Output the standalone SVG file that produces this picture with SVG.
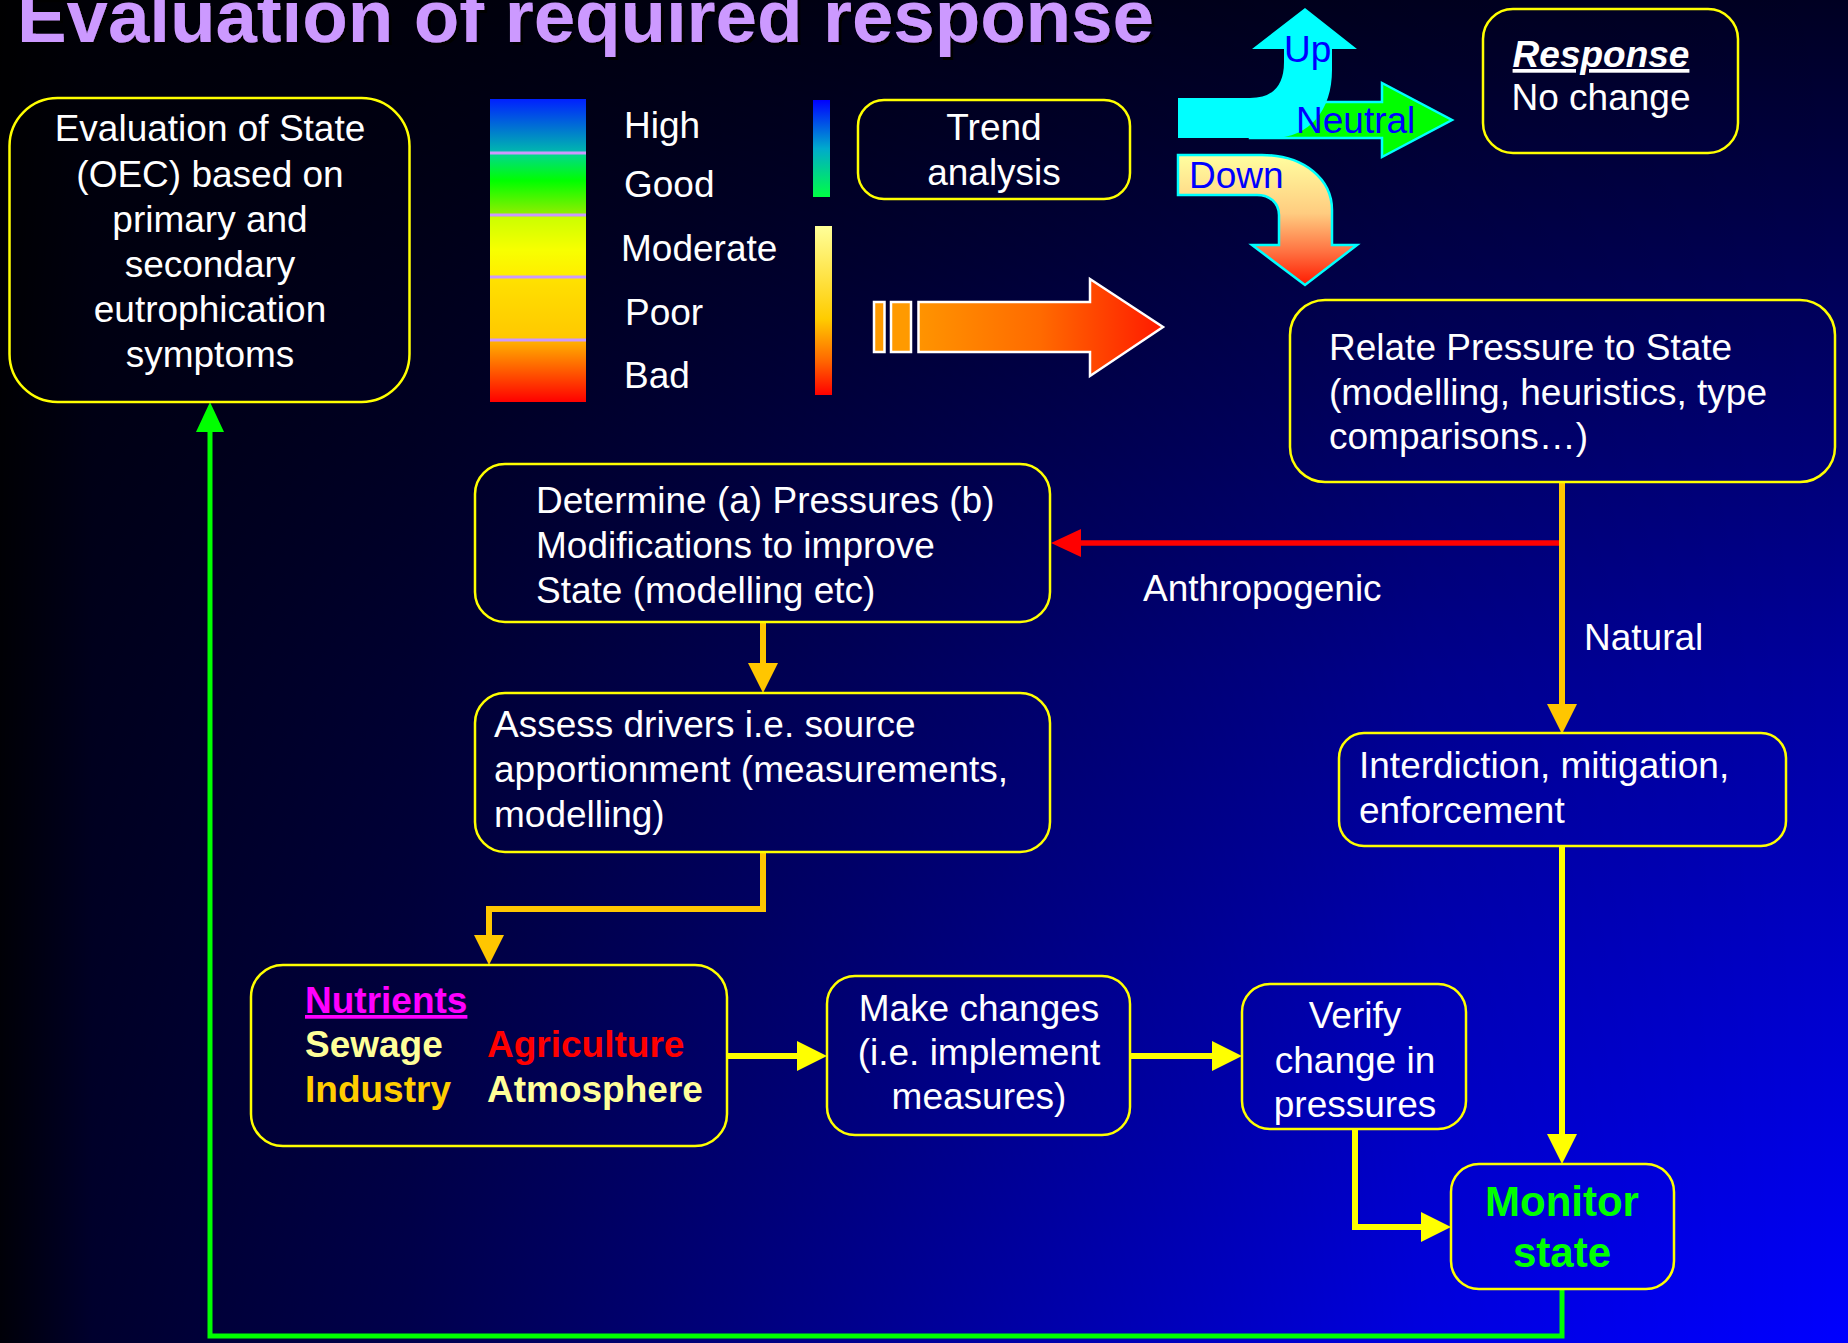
<svg xmlns="http://www.w3.org/2000/svg" width="1848" height="1343" viewBox="0 0 1848 1343">
<style>
.t{font-family:"Liberation Sans",Arial,sans-serif;font-size:37px;fill:#ffffff}
.b{font-weight:bold}
.box{fill:none;stroke:#ffff00;stroke-width:2.5}
.bl{fill:#0000ff}
.cy{fill:#00ffff}
.c{fill:none;stroke-linejoin:miter}
.cy6{stroke:#ffff00;stroke-width:6}
.co6{stroke:#ffc600;stroke-width:6}
.sep{stroke:#cc99ff;stroke-width:3}
</style>
<defs>
<linearGradient id="bgV" x1="0" y1="0" x2="0" y2="1">
<stop offset="0" stop-color="#000022"/><stop offset="0.5" stop-color="#00009e"/><stop offset="1" stop-color="#0000ff"/>
</linearGradient>
<linearGradient id="bgH" x1="0" y1="0" x2="1" y2="0">
<stop offset="0" stop-color="#000" stop-opacity="0.97"/><stop offset="0.05" stop-color="#000" stop-opacity="0.82"/><stop offset="0.22" stop-color="#000" stop-opacity="0.7"/><stop offset="0.5" stop-color="#000" stop-opacity="0.4"/><stop offset="0.77" stop-color="#000" stop-opacity="0.12"/><stop offset="1" stop-color="#000" stop-opacity="0"/>
</linearGradient>
<linearGradient id="scale" x1="0" y1="0" x2="0" y2="1">
<stop offset="0" stop-color="#0020ff"/><stop offset="0.17" stop-color="#00b4b0"/><stop offset="0.18" stop-color="#00d890"/><stop offset="0.27" stop-color="#00ff00"/><stop offset="0.38" stop-color="#90ee00"/><stop offset="0.39" stop-color="#ccff00"/><stop offset="0.5" stop-color="#f8ff00"/><stop offset="0.58" stop-color="#ffee00"/><stop offset="0.6" stop-color="#ffe000"/><stop offset="0.79" stop-color="#ffc800"/><stop offset="0.8" stop-color="#ffb000"/><stop offset="1" stop-color="#ff0000"/>
</linearGradient>
<linearGradient id="bgbar" x1="0" y1="0" x2="0" y2="1">
<stop offset="0" stop-color="#0000ff"/><stop offset="0.5" stop-color="#00aacc"/><stop offset="1" stop-color="#00ff44"/>
</linearGradient>
<linearGradient id="orbar" x1="0" y1="0" x2="0" y2="1">
<stop offset="0" stop-color="#ffff99"/><stop offset="0.55" stop-color="#ffcc00"/><stop offset="0.8" stop-color="#ff6600"/><stop offset="1" stop-color="#ff0000"/>
</linearGradient>
<linearGradient id="bigarr" gradientUnits="userSpaceOnUse" x1="918" y1="0" x2="1163" y2="0">
<stop offset="0" stop-color="#ff9400"/><stop offset="0.5" stop-color="#ff6a00"/><stop offset="1" stop-color="#ff1a00"/>
</linearGradient>
<linearGradient id="down" x1="0" y1="0" x2="0" y2="1">
<stop offset="0" stop-color="#ffffa0"/><stop offset="0.45" stop-color="#ffcc80"/><stop offset="0.75" stop-color="#ff7040"/><stop offset="1" stop-color="#ff1a00"/>
</linearGradient>
<filter id="sh" x="-5%" y="-20%" width="110%" height="150%"><feDropShadow dx="3" dy="3" stdDeviation="0" flood-color="#000" flood-opacity="1"/></filter>
<marker id="mY" markerUnits="userSpaceOnUse" markerWidth="30" markerHeight="30" refX="0" refY="15" orient="auto" overflow="visible"><path d="M0,0 L30,15 L0,30 Z" fill="#ffff00"/></marker>
<marker id="mO" markerUnits="userSpaceOnUse" markerWidth="30" markerHeight="30" refX="0" refY="15" orient="auto" overflow="visible"><path d="M0,0 L30,15 L0,30 Z" fill="#ffc600"/></marker>
<marker id="mR" markerUnits="userSpaceOnUse" markerWidth="30" markerHeight="30" refX="0" refY="15" orient="auto" overflow="visible"><path d="M0,1 L30,15 L0,29 Z" fill="#ff0000"/></marker>
<marker id="mG" markerUnits="userSpaceOnUse" markerWidth="30" markerHeight="30" refX="0" refY="15" orient="auto" overflow="visible"><path d="M0,1 L30,15 L0,29 Z" fill="#00ff00"/></marker>
</defs>

<rect x="0" y="0" width="1848" height="1343" fill="url(#bgV)"/>
<rect x="0" y="0" width="1848" height="1343" fill="url(#bgH)"/>

<g id="title">
<text class="t b" x="17" y="42" style="font-size:74.4px;fill:#cc99ff" filter="url(#sh)">Evaluation of required response</text>
</g>

<g id="connectors">
<path class="c" d="M1562,543 H1081" stroke="#ff0000" stroke-width="5.5" marker-end="url(#mR)"/>
<path class="c co6" d="M1562,482 V704" marker-end="url(#mO)"/>
<path class="c co6" d="M763,622 V663" marker-end="url(#mO)"/>
<path class="c co6" d="M763,852 V909 H489 V935" marker-end="url(#mO)"/>
<path class="c cy6" d="M727,1056 H797" marker-end="url(#mY)"/>
<path class="c cy6" d="M1130,1056 H1212" marker-end="url(#mY)"/>
<path class="c cy6" d="M1355,1129 V1227 H1421" marker-end="url(#mY)"/>
<path class="c cy6" d="M1562,846 V1134" marker-end="url(#mY)"/>
<path class="c" d="M1562,1289 V1336 H210 V432" stroke="#00ff00" stroke-width="5" marker-end="url(#mG)"/>
<text class="t" x="1143" y="601">Anthropogenic</text>
<text class="t" x="1584" y="650">Natural</text>
</g>

<g id="eval-state">
<rect class="box" x="9.5" y="98" width="400" height="304" rx="48"/>
<text class="t" text-anchor="middle"><tspan x="210" y="141">Evaluation of State</tspan><tspan x="210" y="186.5">(OEC) based on</tspan><tspan x="210" y="232">primary and</tspan><tspan x="210" y="277">secondary</tspan><tspan x="210" y="322">eutrophication</tspan><tspan x="210" y="367">symptoms</tspan></text>
</g>

<g id="scale-legend">
<rect x="490" y="99" width="96" height="303" fill="url(#scale)"/>
<line class="sep" x1="490" y1="153" x2="586" y2="153"/>
<line class="sep" x1="490" y1="215" x2="586" y2="215"/>
<line class="sep" x1="490" y1="277" x2="586" y2="277"/>
<line class="sep" x1="490" y1="340" x2="586" y2="340"/>
<text class="t" x="624" y="138">High</text>
<text class="t" x="624" y="197">Good</text>
<text class="t" x="621" y="261">Moderate</text>
<text class="t" x="625" y="325">Poor</text>
<text class="t" x="624" y="388">Bad</text>
<rect x="813" y="100" width="17" height="97" fill="url(#bgbar)"/>
<rect x="815" y="226" width="17" height="169" fill="url(#orbar)"/>
</g>

<g id="trend-analysis">
<rect class="box" x="858" y="100" width="272" height="99" rx="26"/>
<text class="t" text-anchor="middle"><tspan x="994" y="140">Trend</tspan><tspan x="994" y="185">analysis</tspan></text>
</g>

<g id="big-arrow" stroke="#ffffff" stroke-width="2.5">
<rect x="874" y="302" width="10.5" height="50" fill="#ff9a00"/>
<rect x="891" y="302" width="20" height="50" fill="#ff9a00"/>
<path d="M918.5,302 L1090,302 L1090,279 L1163,327 L1090,376 L1090,352 L918.5,352 Z" fill="url(#bigarr)"/>
</g>

<g id="trend-arrows">
<path d="M1250,102 L1382,102 L1382,83 L1452,120 L1382,157 L1382,138 L1250,138 Z" fill="#00ff00" stroke="#00ffff" stroke-width="2.5"/>
<path class="cy" d="M1178,98 L1250,98 Q1284,98 1284,62 L1284,49 L1252,49 L1305,8 L1357,49 L1332,49 L1332,70 C1332,110 1310,138 1272,138 L1178,138 Z"/>
<path d="M1178,155 L1262,155 C1305,155 1332,180 1332,210 L1332,245 L1357,245 L1305,285 L1252,245 L1279,245 L1279,215 C1279,203 1270,195 1257,195 L1178,195 Z" fill="url(#down)" stroke="#00ffff" stroke-width="2.5"/>
<text class="t bl" x="1284" y="62">Up</text>
<text class="t bl" x="1296" y="133">Neutral</text>
<text class="t bl" x="1189" y="188">Down</text>
</g>

<g id="response">
<rect class="box" x="1483" y="9" width="255" height="144" rx="30"/>
<text class="t b" x="1601" y="67" text-anchor="middle" font-style="italic" text-decoration="underline">Response</text>
<text class="t" x="1601" y="110" text-anchor="middle">No change</text>
</g>

<g id="relate-pressure">
<rect class="box" x="1290" y="300" width="545" height="182" rx="35"/>
<text class="t"><tspan x="1329" y="360">Relate Pressure to State</tspan><tspan x="1329" y="405">(modelling, heuristics, type</tspan><tspan x="1329" y="449">comparisons…)</tspan></text>
</g>

<g id="determine">
<rect class="box" x="475" y="464" width="575" height="158" rx="30"/>
<text class="t"><tspan x="536" y="513">Determine (a) Pressures (b)</tspan><tspan x="536" y="558">Modifications to improve</tspan><tspan x="536" y="603">State (modelling etc)</tspan></text>
</g>

<g id="assess">
<rect class="box" x="475" y="693" width="575" height="159" rx="30"/>
<text class="t"><tspan x="494" y="737">Assess drivers i.e. source</tspan><tspan x="494" y="782">apportionment (measurements,</tspan><tspan x="494" y="827">modelling)</tspan></text>
</g>

<g id="interdiction">
<rect class="box" x="1339" y="733" width="447" height="113" rx="25"/>
<text class="t"><tspan x="1359" y="778">Interdiction, mitigation,</tspan><tspan x="1359" y="823">enforcement</tspan></text>
</g>

<g id="nutrients">
<rect class="box" x="251" y="965" width="476" height="181" rx="32"/>
<text class="t b" x="305" y="1013" style="fill:#ff00ff" text-decoration="underline">Nutrients</text>
<text class="t b" x="305" y="1057" style="fill:#ffff99">Sewage</text>
<text class="t b" x="487" y="1057" style="fill:#ff0000">Agriculture</text>
<text class="t b" x="305" y="1102" style="fill:#ffcc00">Industry</text>
<text class="t b" x="487" y="1102" style="fill:#ffff99">Atmosphere</text>
</g>

<g id="make-changes">
<rect class="box" x="827" y="976" width="303" height="159" rx="28"/>
<text class="t" text-anchor="middle"><tspan x="979" y="1021">Make changes</tspan><tspan x="979" y="1065">(i.e. implement</tspan><tspan x="979" y="1109">measures)</tspan></text>
</g>

<g id="verify">
<rect class="box" x="1242" y="984" width="224" height="145" rx="28"/>
<text class="t" text-anchor="middle"><tspan x="1355" y="1028">Verify</tspan><tspan x="1355" y="1073">change in</tspan><tspan x="1355" y="1117">pressures</tspan></text>
</g>

<g id="monitor">
<rect class="box" x="1451" y="1164" width="223" height="125" rx="28"/>
<text class="t b" text-anchor="middle" style="font-size:42px;fill:#00ff00"><tspan x="1562" y="1216">Monitor</tspan><tspan x="1562" y="1267">state</tspan></text>
</g>
</svg>
